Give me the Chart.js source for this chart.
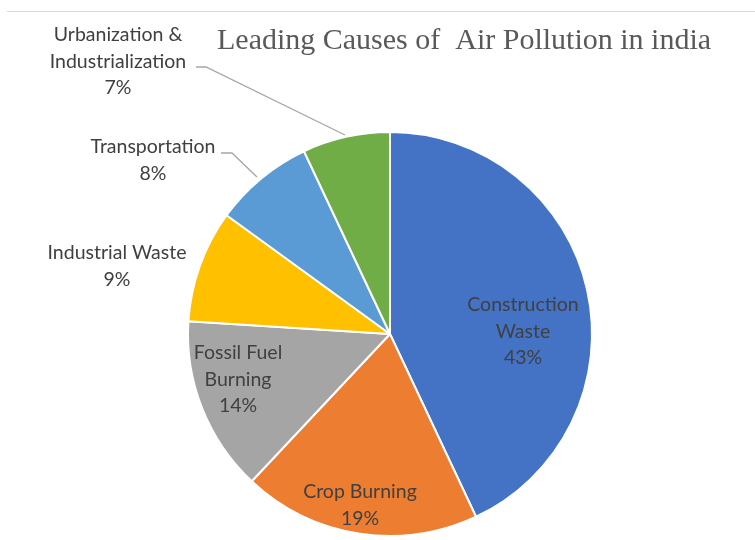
<!DOCTYPE html>
<html>
<head>
<meta charset="utf-8">
<script src="https://cdn.jsdelivr.net/npm/chart.js@4.4.1/dist/chart.umd.min.js"></script>
<style>
  html, body { margin: 0; padding: 0; background: #fff; }
  #wrap { width: 755px; height: 540px; position: relative; }
</style>
</head>
<body>
<div id="wrap"><canvas id="pie" width="755" height="540"></canvas></div>
<script>
const categories = ["Construction Waste", "Crop Burning", "Fossil Fuel Burning", "Industrial Waste", "Transportation", "Urbanization & Industrialization"];
const shares = [43, 19, 14, 9, 8, 7];
const colors = ["#4472c4", "#ed7d31", "#a5a5a5", "#ffc000", "#5b9bd5", "#70ad47"];
// how each label is broken into lines (as in the original)
const labelLines = [
  ["Construction", "Waste"],
  ["Crop Burning"],
  ["Fossil Fuel", "Burning"],
  ["Industrial Waste"],
  ["Transportation"],
  ["Urbanization &", "Industrialization"]
];
const title = "Leading Causes of  Air Pollution in india";

// label anchor offsets from the pie centre, plus leader lines for the outside ones
const labelPos = [
  {dx: 133, dy: -29},
  {dx: -30, dy: 158},
  {dx: -152, dy: 19},
  {dx: -273, dy: -81},
  {dx: -237, dy: -187, leader: [[-169, -181], [-158, -181], [-133, -157]]},
  {dx: -272, dy: -299, leader: [[-194, -267], [-184, -267], [-45, -199]]}
];

const labelPlugin = {
  id: "sliceLabels",
  afterDraw(chart) {
    const ctx = chart.ctx;
    const arc = chart.getDatasetMeta(0).data[0];
    const cx = arc.x, cy = arc.y;

    // thin rule along the top
    ctx.save();
    ctx.strokeStyle = "#d9d9d9";
    ctx.lineWidth = 1;
    ctx.beginPath();
    ctx.moveTo(7, 11.5);
    ctx.lineTo(755, 11.5);
    ctx.stroke();

    // title
    ctx.fillStyle = "#595959";
    ctx.font = "30px 'Liberation Serif'";
    ctx.textAlign = "left";
    ctx.textBaseline = "middle";
    ctx.fillText(title, 217, 41);

    ctx.font = "19.5px Lato";
    ctx.fillStyle = "#404040";
    ctx.textAlign = "center";
    const lh = 26.5;
    labelPos.forEach((p, i) => {
      const lines = labelLines[i].concat([shares[i] + "%"]);
      const x = cx + p.dx, y = cy + p.dy;
      lines.forEach((t, k) => ctx.fillText(t, x, y + k * lh));
      if (p.leader) {
        ctx.strokeStyle = "#a6a6a6";
        ctx.lineWidth = 1.3;
        ctx.beginPath();
        p.leader.forEach((pt, k) => {
          if (k === 0) ctx.moveTo(cx + pt[0], cy + pt[1]);
          else ctx.lineTo(cx + pt[0], cy + pt[1]);
        });
        ctx.stroke();
      }
    });
    ctx.restore();
  }
};

new Chart(document.getElementById("pie"), {
  type: "pie",
  data: {
    labels: categories,
    datasets: [{
      data: shares,
      backgroundColor: colors,
      borderColor: "#ffffff",
      borderWidth: 2
    }]
  },
  options: {
    responsive: false,
    animation: false,
    layout: { padding: { top: 131, bottom: 3, left: 187, right: 162 } },
    plugins: {
      legend: { display: false },
      tooltip: { enabled: false },
      title: { display: false }
    }
  },
  plugins: [labelPlugin]
});
</script>
</body>
</html>
